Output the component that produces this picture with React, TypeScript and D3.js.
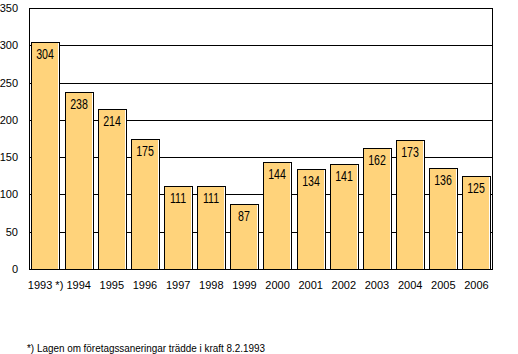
import React from "react";
import * as d3 from "d3";

// Antal företagssaneringar per år
const years = ["1993 *)", "1994", "1995", "1996", "1997", "1998", "1999", "2000", "2001", "2002", "2003", "2004", "2005", "2006"];
const values = [304, 238, 214, 175, 111, 111, 87, 144, 134, 141, 162, 173, 136, 125];
const yTicks = [0, 50, 100, 150, 200, 250, 300, 350];
const footnote = "*) Lagen om företagssaneringar trädde i kraft 8.2.1993";

const W = 518;
const H = 354;
const left = 29;
const right = 493;
const top = 8;
const bottom = 269;

const App = () => {
  const x = d3
    .scaleBand<string>()
    .domain(years)
    .range([left, right])
    .paddingInner(0.15)
    .paddingOuter(0.075);

  const y = d3.scaleLinear().domain([0, 350]).range([bottom, top]);

  const px = (v: number) => Math.round(v) + 0.5;
  const bw = Math.round(x.bandwidth());
  const font = "Arial, 'Liberation Sans', sans-serif";

  return (
    <svg
      width={W}
      height={H}
      style={{ position: "absolute", left: 0, top: 0, background: "#fff" }}
    >
      {/* gridlines */}
      {yTicks.map((t) => (
        <line key={"g" + t} x1={left} x2={right} y1={px(y(t))} y2={px(y(t))} stroke="#000" strokeWidth={1} />
      ))}
      <line x1={px(left)} x2={px(left)} y1={top} y2={bottom + 1} stroke="#000" />
      <line x1={px(right - 1)} x2={px(right - 1)} y1={top} y2={bottom + 1} stroke="#000" />

      {/* y labels */}
      {yTicks.map((t) => (
        <text key={"yl" + t} x={18} y={y(t) + 4} textAnchor="end" fontFamily={font} fontSize={11}>
          {t}
        </text>
      ))}

      {/* bars */}
      {values.map((v, i) => {
        const x0 = Math.round(x(years[i]) as number);
        const y0 = Math.round(y(v));
        const h = Math.round(y(0)) - y0;
        const cx = x0 + bw / 2;
        return (
          <g key={"b" + i}>
            <rect x={x0} y={y0} width={bw} height={h} fill="#fff" />
            <rect x={x0} y={y0} width={bw - 1} height={h} fill="#FFD37B" />
            <rect x={x0 + 0.5} y={y0 + 0.5} width={bw} height={h} fill="none" stroke="#000" strokeWidth={1} />
            <text
              transform={`translate(${cx},${y0 + 17}) scale(0.76,1)`}
              textAnchor="middle"
              fontFamily={font}
              fontSize={14}
            >
              {v}
            </text>
          </g>
        );
      })}

      {/* x labels */}
      {years.map((yr) => (
        <text
          key={"xl" + yr}
          x={(x(yr) as number) + x.bandwidth() / 2}
          y={289}
          textAnchor="middle"
          fontFamily={font}
          fontSize={11}
        >
          {yr}
        </text>
      ))}

      <text transform="translate(27,351.5) scale(0.9,1)" fontFamily={font} fontSize={11}>
        {footnote}
      </text>
    </svg>
  );
};

export default App;
